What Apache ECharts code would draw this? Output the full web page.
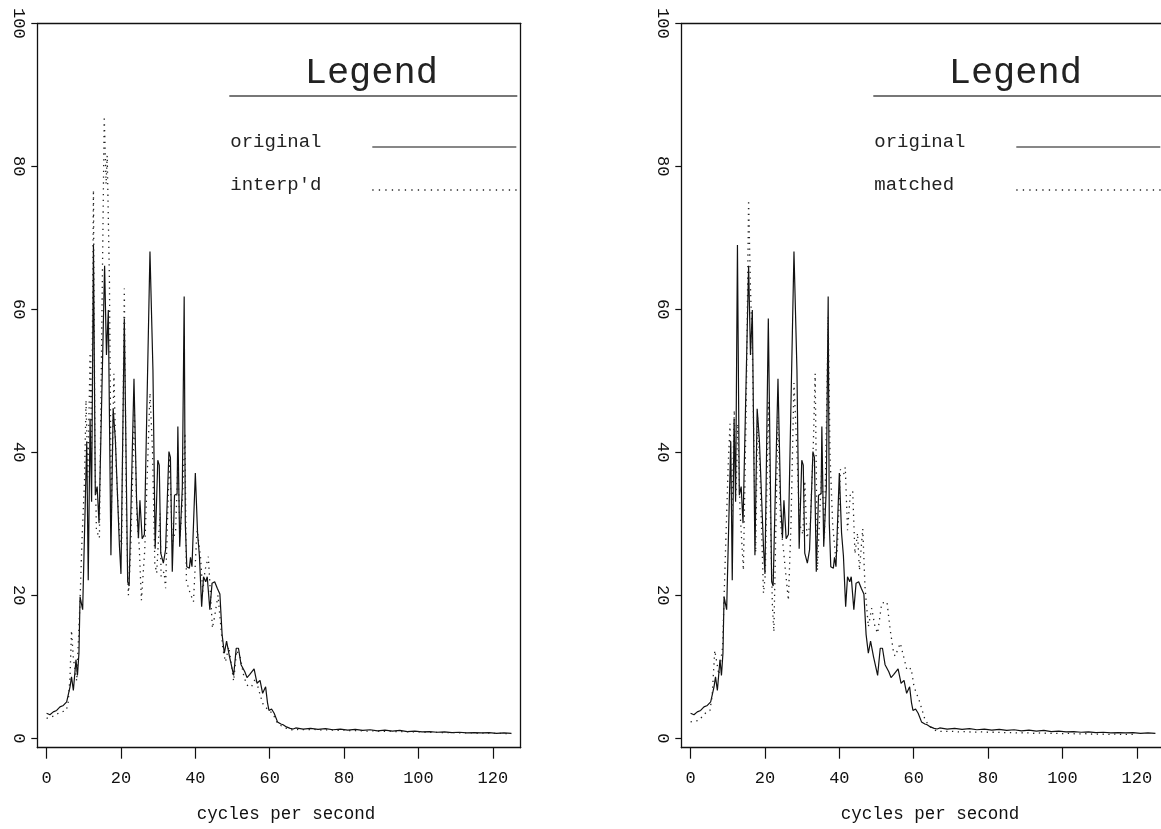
<!DOCTYPE html>
<html>
<head>
<meta charset="utf-8">
<script src="https://cdn.jsdelivr.net/npm/echarts@6/dist/echarts.min.js"></script>
<style>
  html, body { margin: 0; padding: 0; background: #ffffff; overflow: hidden; }
  #chart { width: 1161px; height: 829px; }
</style>
</head>
<body>
<div id="chart"></div>
<script>
// Amplitude spectra, frequency in cycles per second.
const origFreq = [0, 0.9, 1.8, 2.7, 3.6, 4.5, 5.4, 5.8, 6.3, 6.7, 7.2, 7.9, 8.3, 8.7, 9.0, 9.7, 10.8, 11.2, 11.7, 12.1,
  12.6, 13.1, 13.6, 14.1, 15.6, 16.1, 16.6, 17.3, 17.9, 18.5, 19.6, 20.0, 20.9, 21.8, 22.2, 23.5, 24.2, 24.7, 25.1, 25.7,
  26.3, 27.8, 28.6, 29.2, 29.9, 30.3, 30.7, 31.4, 32.0, 32.9, 33.3, 33.8, 34.4, 35.1, 35.3, 35.8, 36.5, 37.0, 37.3, 37.7,
  38.4, 38.7, 39.1, 40.0, 40.6, 41.1, 41.7, 42.2, 42.8, 43.2, 43.9, 44.5, 45.2, 45.9, 46.6, 47.2, 47.8, 48.4, 49.2, 50.3,
  51.0, 51.6, 52.3, 53.3, 53.9, 54.6, 55.8, 56.6, 57.4, 58.1, 58.9, 59.4, 59.8, 60.5, 61.2, 62.1, 63.0, 63.6, 64.5, 65.5,
  66.3, 67, 69, 71, 73, 75, 77, 79, 81, 83, 85, 87, 89, 91, 93, 95, 97, 99, 101, 103, 105, 107, 109, 111, 113, 115, 117,
  119, 121, 123, 125];
const origAmp = [3.5, 3.3, 3.7, 3.9, 4.4, 4.6, 5.1, 5.1, 7.2, 8.6, 6.7, 11.0, 8.8, 11.9, 19.8, 18.0, 41.5, 22.1, 44.7, 33.1,
  69.0, 34.0, 35.2, 30.1, 66.1, 53.6, 59.9, 25.6, 46.1, 41.7, 26.8, 23.0, 58.7, 21.9, 21.3, 50.3, 33.3, 28.0, 33.3, 27.9,
  28.5, 68.1, 51.5, 26.5, 38.9, 38.2, 25.9, 24.5, 26.4, 40.1, 39.3, 23.3, 34.0, 34.2, 43.6, 26.8, 35.0, 61.8, 30.1, 24.0,
  23.8, 25.3, 24.0, 37.1, 28.7, 25.5, 18.4, 22.6, 21.9, 22.6, 18.0, 21.7, 21.9, 21.0, 20.2, 14.5, 11.9, 13.6, 11.4, 8.8,
  12.6, 12.6, 10.3, 9.3, 8.5, 8.9, 9.7, 7.7, 8.1, 6.3, 7.2, 5.0, 3.9, 4.1, 3.5, 2.3, 2.0, 1.9, 1.6, 1.4,
  1.3, 1.45, 1.3, 1.4, 1.25, 1.35, 1.2, 1.3, 1.15, 1.25, 1.1, 1.2, 1.05, 1.15, 1.0, 1.1, 0.95, 1.0, 0.9, 0.95, 0.85, 0.9,
  0.8, 0.85, 0.75, 0.8, 0.75, 0.8, 0.7, 0.75, 0.7];

const interpFreq = [0, 1.8, 3.5, 5.3, 5.8, 6.3, 6.7, 7.2, 8.1, 9.0, 9.5, 10.2, 10.6, 11.1, 11.7, 12.1, 12.6, 13.0, 13.4, 14.2,
  15.5, 16.0, 16.3, 16.9, 17.4, 18.1, 18.7, 19.6, 20.2, 20.9, 21.5, 22.0, 22.6, 23.6, 24.3, 24.9, 25.5, 26.4, 27.8, 28.5,
  29.1, 29.6, 30.5, 30.8, 31.6, 32.0, 32.7, 33.1, 33.8, 34.7, 35.3, 35.9, 36.5, 37.2, 37.6, 38.6, 39.5, 40.3, 40.5, 41.4,
  42.0, 42.6, 43.5, 44.6, 45.1, 46.1, 47.4, 48.1, 49.0, 50.3, 51.1, 52.1, 53.1, 54.1, 55.1, 56.2, 57.2, 58.1, 59.5, 60.8,
  62.0, 63.0, 64.5, 66, 68, 70, 72, 74, 76, 78, 80, 82, 84, 86, 88, 90, 92, 94, 96, 98, 100, 102, 104, 106, 108, 110, 112,
  114, 116, 118, 120, 122, 124, 125];
const interpAmp = [2.8, 3.1, 3.6, 3.9, 5.0, 8.6, 15.1, 11.2, 8.0, 19.3, 27.5, 36.0, 47.3, 36.5, 53.9, 40.5, 76.7, 40.0, 29.1, 28.0,
  87.0, 77.5, 81.5, 64.0, 31.0, 51.0, 38.0, 28.5, 27.0, 62.9, 30.0, 20.0, 26.0, 46.0, 30.5, 27.0, 19.3, 26.4, 48.3, 40.0,
  24.5, 23.1, 31.5, 22.6, 23.3, 21.0, 33.9, 39.3, 27.2, 29.1, 38.5, 28.0, 33.0, 42.7, 22.0, 20.3, 19.1, 27.7, 29.1, 25.3,
  20.5, 23.5, 25.4, 15.4, 16.8, 20.0, 12.5, 10.7, 12.8, 8.0, 12.3, 11.3, 8.5, 7.3, 7.2, 8.4, 6.5, 4.9, 4.0, 3.5,
  2.2, 1.8, 1.4, 1.2, 1.25, 1.2, 1.25, 1.15, 1.2, 1.1, 1.15, 1.05, 1.1, 1.0, 1.05, 0.95, 1.0, 0.95, 0.95, 0.9, 0.9, 0.85,
  0.85, 0.8, 0.8, 0.8, 0.75, 0.8, 0.7, 0.75, 0.7, 0.7, 0.65, 0.65];

const matchFreq = [0, 2.2, 4.3, 5.2, 5.8, 6.5, 7.6, 8.6, 9.2, 10.1, 10.6, 11.1, 11.75, 12.2, 12.7, 13.3, 14.2, 15.0, 15.6, 16.1,
  16.6, 17.1, 17.5, 18.0, 18.6, 19.6, 20.1, 20.9, 21.6, 22.0, 22.4, 23.5, 24.2, 24.9, 25.4, 26.3, 27.0, 27.8, 28.6, 29.3,
  30.2, 30.7, 31.3, 32.2, 33.0, 33.5, 34.1, 34.7, 35.3, 36.0, 37.0, 37.5, 38.2, 39.0, 39.4, 40.3, 41.2, 41.6, 42.2, 43.0,
  43.6, 44.2, 44.9, 45.4, 46.3, 46.9, 47.8, 48.7, 49.6, 50.3, 51.4, 52.8, 53.7, 54.6, 55.0, 56.4, 57.3, 58.2, 59.3, 60.1,
  61.6, 63.1, 64.5, 66.2, 68, 70, 72, 74, 76, 78, 80, 82, 84, 86, 88, 90, 92, 94, 96, 98, 100, 102, 104, 106, 108, 110,
  112, 114, 116, 118, 120, 122, 124, 125];
const matchAmp = [2.3, 2.5, 3.7, 3.9, 6.0, 12.3, 8.9, 12.7, 23.1, 38.0, 44.0, 31.0, 45.9, 34.0, 44.0, 31.7, 23.5, 48.0, 75.3, 63.0,
  55.0, 38.0, 26.0, 45.0, 38.0, 20.3, 23.0, 47.0, 28.0, 18.5, 14.9, 45.0, 30.0, 26.8, 24.0, 19.3, 30.0, 49.7, 40.0, 30.0,
  28.5, 36.0, 28.0, 30.0, 41.0, 51.0, 23.5, 31.0, 38.0, 28.0, 59.0, 39.6, 30.0, 25.3, 25.8, 37.6, 37.0, 37.9, 29.1, 34.4,
  34.5, 25.8, 28.7, 23.5, 29.3, 21.2, 15.6, 18.2, 15.6, 14.7, 18.9, 19.1, 15.1, 11.9, 11.5, 13.3, 11.4, 9.5, 9.8, 7.2,
  5.1, 2.5, 1.6, 1.0, 0.95, 1.0, 0.9, 0.95, 0.85, 0.9, 0.85, 0.85, 0.8, 0.8, 0.75, 0.8, 0.7, 0.75, 0.7, 0.7, 0.65, 0.7,
  0.6, 0.65, 0.6, 0.6, 0.55, 0.6, 0.55, 0.55, 0.55];

const xTicks = [0, 20, 40, 60, 80, 100, 120];
const yTicks = [0, 20, 40, 60, 80, 100];
const xLabel = 'cycles per second';
const legendTitle = 'Legend';
const solidName = 'original';
const dottedNames = ["interp'd", 'matched'];

const FONT = '"Liberation Mono", "DejaVu Sans Mono", monospace';
const INK = '#111111';
const X_RANGE = [-2.5, 127.5];
const Y_RANGE = [-1.31, 100];
const PAGE_W = 1161;

const zip = (xs, ys) => xs.map((x, i) => [x, ys[i]]);
const dottedData = [zip(interpFreq, interpAmp), zip(matchFreq, matchAmp)];
const origData = zip(origFreq, origAmp);

// The second panel runs a few pixels past the right edge of the page.
const panelLefts = [37.3, 681.3];
const gridTop = 23.3, gridW = 483.4, gridH = 724.4;

const frameLine = { show: true, onZero: false, lineStyle: { color: INK, width: 1.3 } };
const grids = [], xAxes = [], yAxes = [], series = [], graphics = [];

panelLefts.forEach((L, i) => {
  grids.push({
    left: L, top: gridTop, width: gridW, height: gridH,
    outerBoundsMode: 'none', containLabel: false, show: false
  });
  // bottom axis with ticks and labels
  xAxes.push({
    gridIndex: i, type: 'value', position: 'bottom', min: X_RANGE[0], max: X_RANGE[1],
    axisLine: frameLine,
    axisTick: { show: true, customValues: xTicks, length: 11, lineStyle: { color: INK, width: 1.2 } },
    axisLabel: { customValues: xTicks, margin: 22, fontFamily: FONT, fontSize: 17, color: INK },
    splitLine: { show: false },
    name: xLabel, nameLocation: 'middle', nameGap: 58, nameMoveOverlap: false,
    nameTextStyle: { fontFamily: FONT, fontSize: 17.5, color: INK, padding: [0, 0, 0, 14] }
  });
  // top edge of the frame
  xAxes.push({
    gridIndex: i, type: 'value', position: 'top', min: X_RANGE[0], max: X_RANGE[1],
    axisLine: frameLine, axisTick: { show: false }, axisLabel: { show: false }, splitLine: { show: false }
  });
  // left axis with rotated labels
  yAxes.push({
    gridIndex: i, type: 'value', position: 'left', min: Y_RANGE[0], max: Y_RANGE[1],
    axisLine: frameLine,
    axisTick: { show: true, customValues: yTicks, length: 6, lineStyle: { color: INK, width: 1.2 } },
    axisLabel: { customValues: yTicks, rotate: -90, margin: 10, fontFamily: FONT, fontSize: 17, color: INK },
    splitLine: { show: false }
  });
  // right edge of the frame (falls outside the page for the second panel)
  yAxes.push({
    gridIndex: i, type: 'value', position: 'right', min: Y_RANGE[0], max: Y_RANGE[1],
    axisLine: Object.assign({}, frameLine, { show: L + gridW <= PAGE_W }),
    axisTick: { show: false }, axisLabel: { show: false }, splitLine: { show: false }
  });
  series.push({
    type: 'line', name: solidName, xAxisIndex: 2 * i, yAxisIndex: 2 * i,
    data: origData, symbol: 'none', showSymbol: false, silent: true,
    lineStyle: { color: INK, width: 1.2 }
  });
  series.push({
    type: 'line', name: dottedNames[i], xAxisIndex: 2 * i, yAxisIndex: 2 * i,
    data: dottedData[i], symbol: 'none', showSymbol: false, silent: true,
    lineStyle: { color: '#222222', width: 1.3, type: [1.3, 4.5] }
  });

  // legend box drawn inside the plot: title, rule, and two entries with line samples
  graphics.push(
    { type: 'text', x: L + 334, y: 73, silent: true,
      style: { text: legendTitle, fill: '#222', fontFamily: FONT, fontSize: 37, align: 'center', verticalAlign: 'middle' } },
    { type: 'line', silent: true, shape: { x1: L + 192, y1: 96, x2: L + 480, y2: 96 },
      style: { stroke: '#777', lineWidth: 2 } },
    { type: 'text', x: L + 193, y: 142, silent: true,
      style: { text: solidName, fill: '#222', fontFamily: FONT, fontSize: 19, align: 'left', verticalAlign: 'middle' } },
    { type: 'line', silent: true, shape: { x1: L + 335, y1: 147, x2: L + 479, y2: 147 },
      style: { stroke: INK, lineWidth: 1.2 } },
    { type: 'text', x: L + 193, y: 185, silent: true,
      style: { text: dottedNames[i], fill: '#222', fontFamily: FONT, fontSize: 19, align: 'left', verticalAlign: 'middle' } },
    { type: 'line', silent: true, shape: { x1: L + 335, y1: 190, x2: L + 481, y2: 190 },
      style: { stroke: '#222', lineWidth: 1.3, lineDash: [1.3, 5.2] } }
  );
});

const chart = echarts.init(document.getElementById('chart'), null, { renderer: 'canvas' });
chart.setOption({
  animation: false,
  backgroundColor: '#ffffff',
  grid: grids,
  xAxis: xAxes,
  yAxis: yAxes,
  series: series,
  graphic: graphics
});
</script>
</body>
</html>
